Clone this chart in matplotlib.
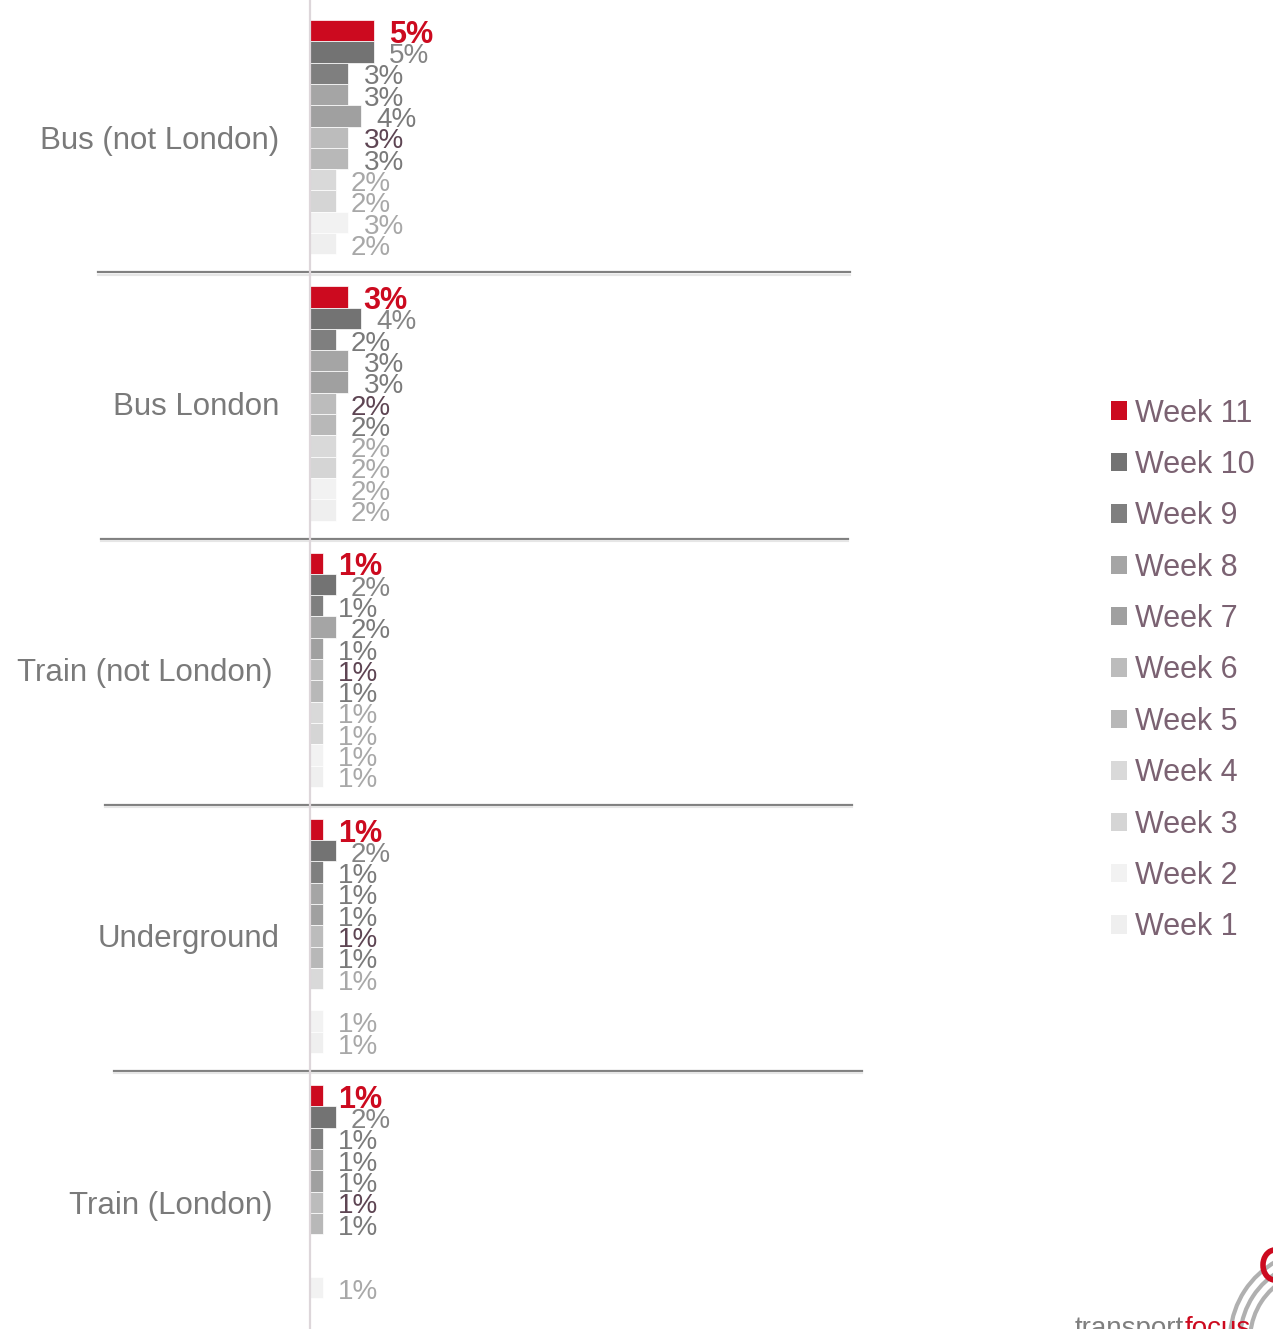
import numpy as np
import matplotlib.pyplot as plt
from matplotlib.patches import Patch, Arc
from matplotlib.transforms import blended_transform_factory, ScaledTranslation

plt.rcParams['font.family'] = ['Liberation Sans', 'DejaVu Sans']

# categories top -> bottom, weeks per category top -> bottom (Week 11 first)
categories = ["Bus (not London)", "Bus London", "Train (not London)",
              "Underground", "Train (London)"]
weeks = ["Week 11", "Week 10", "Week 9", "Week 8", "Week 7", "Week 6",
         "Week 5", "Week 4", "Week 3", "Week 2", "Week 1"]

nan = np.nan
bus_not_london = [5, 5, 3, 3, 4, 3, 3, 2, 2, 3, 2]
bus_london = [3, 4, 2, 3, 3, 2, 2, 2, 2, 2, 2]
train_not_london = [1, 2, 1, 2, 1, 1, 1, 1, 1, 1, 1]
underground = [1, 2, 1, 1, 1, 1, 1, 1, nan, 1, 1]
train_london = [1, 2, 1, 1, 1, 1, 1, nan, nan, 1, nan]
values = np.array([bus_not_london, bus_london, train_not_london,
                   underground, train_london], dtype=float)

bar_colors = ["#cc0a1f", "#737373", "#7f7f7f", "#a5a5a5", "#a0a0a0",
              "#bcbcbc", "#b8b8b8", "#d9d9d9", "#d5d5d5", "#f2f2f2", "#efefef"]
label_colors = ["#cc0a1f", "#858585", "#7a7a7a", "#7a7a7a", "#7a7a7a",
                "#5e4553", "#7a7a7a", "#a8a8a8", "#a8a8a8", "#a8a8a8", "#a8a8a8"]

W, H = 1273, 1329
fig = plt.figure(figsize=(W / 100, H / 100), dpi=100)
ax = fig.add_axes([310 / W, 0, 700 / W, 1])

group_step = 12.5
for w, week in enumerate(weeks):
    ys = np.arange(len(categories)) * group_step + w + 0.5
    vals = values[:, w]
    ax.barh(ys, np.nan_to_num(vals), height=1.0, color=bar_colors[w],
            edgecolor="white", linewidth=0.5)
    for y, v in zip(ys, vals):
        if np.isnan(v):
            continue
        if w == 0:
            ax.annotate(f"{v:.0f}%", (v, y), xytext=(11, -3),
                        textcoords="offset points", va="center", ha="left",
                        fontsize=22, fontweight="bold", color=label_colors[w])
        else:
            ax.annotate(f"{v:.0f}%", (v, y), xytext=(11, -3),
                        textcoords="offset points", va="center", ha="left",
                        fontsize=20, color=label_colors[w])

# px = 20 + slot * 21.3
ax.set_ylim((H - 20) / 21.3, -20 / 21.3)
ax.set_xlim(0, 700 / 12.8)

ax.set_yticks(np.arange(len(categories)) * group_step + 5.5)
ax.set_yticklabels(categories, fontsize=22.5, color="#7a7a7a")
ax.tick_params(axis="y", length=0, pad=22)
# the two train labels sit a little further left
for lbl in ax.get_yticklabels():
    if lbl.get_text().startswith("Train"):
        lbl.set_transform(lbl.get_transform() +
                          ScaledTranslation(-7 / 100, 0, fig.dpi_scale_trans))
ax.set_xticks([])
for s in ["top", "right", "bottom"]:
    ax.spines[s].set_visible(False)
ax.spines["left"].set_color("#ddd6da")
ax.spines["left"].set_linewidth(1.6)

# separators between categories
trans = blended_transform_factory(fig.transFigure, ax.transData)
sep_left = [98, 101, 105, 114]
sep_right = [850, 848, 852, 862]
for g in range(len(categories) - 1):
    y = g * group_step + 11 + 0.85
    x0, x1 = sep_left[g] / W, sep_right[g] / W
    ax.plot([x0, x1], [y, y], transform=trans, color="#808080",
            lw=1.6, clip_on=False)
    ax.plot([x0, x1], [y + 0.1, y + 0.1], transform=trans,
            color="#e6e6e6", lw=1.5, clip_on=False)

handles = [Patch(facecolor=c, edgecolor="none") for c in bar_colors]
fig.legend(handles, weeks, loc="upper left",
           bbox_to_anchor=(1083 / W, 1 - 371 / H), frameon=False,
           fontsize=22, handlelength=0.55, handleheight=0.55,
           handletextpad=0.25, labelspacing=0.7, labelcolor="#7b6272")

# partial logo at the bottom right
fig.text(1075 / W, 1 - 1316 / H, "transport", color="#7f7f7f", fontsize=20,
         va="top", ha="left")
fig.text(1185 / W, 1 - 1316 / H, "focus", color="#cc0a1f", fontsize=20,
         va="top", ha="left")
for r in [70, 80, 90]:
    fig.add_artist(Arc((1320 / W, 1 - 1340 / H), r / W * 2, r / H * 2,
                       theta1=120, theta2=175, color="#b0b0b0", lw=3,
                       transform=fig.transFigure))
fig.add_artist(Arc((1275 / W, 1 - 1265 / H), 24 / W, 30 / H,
                   theta1=40, theta2=320, color="#cc0a1f", lw=4,
                   transform=fig.transFigure))

fig.savefig("out.png", dpi=100)
